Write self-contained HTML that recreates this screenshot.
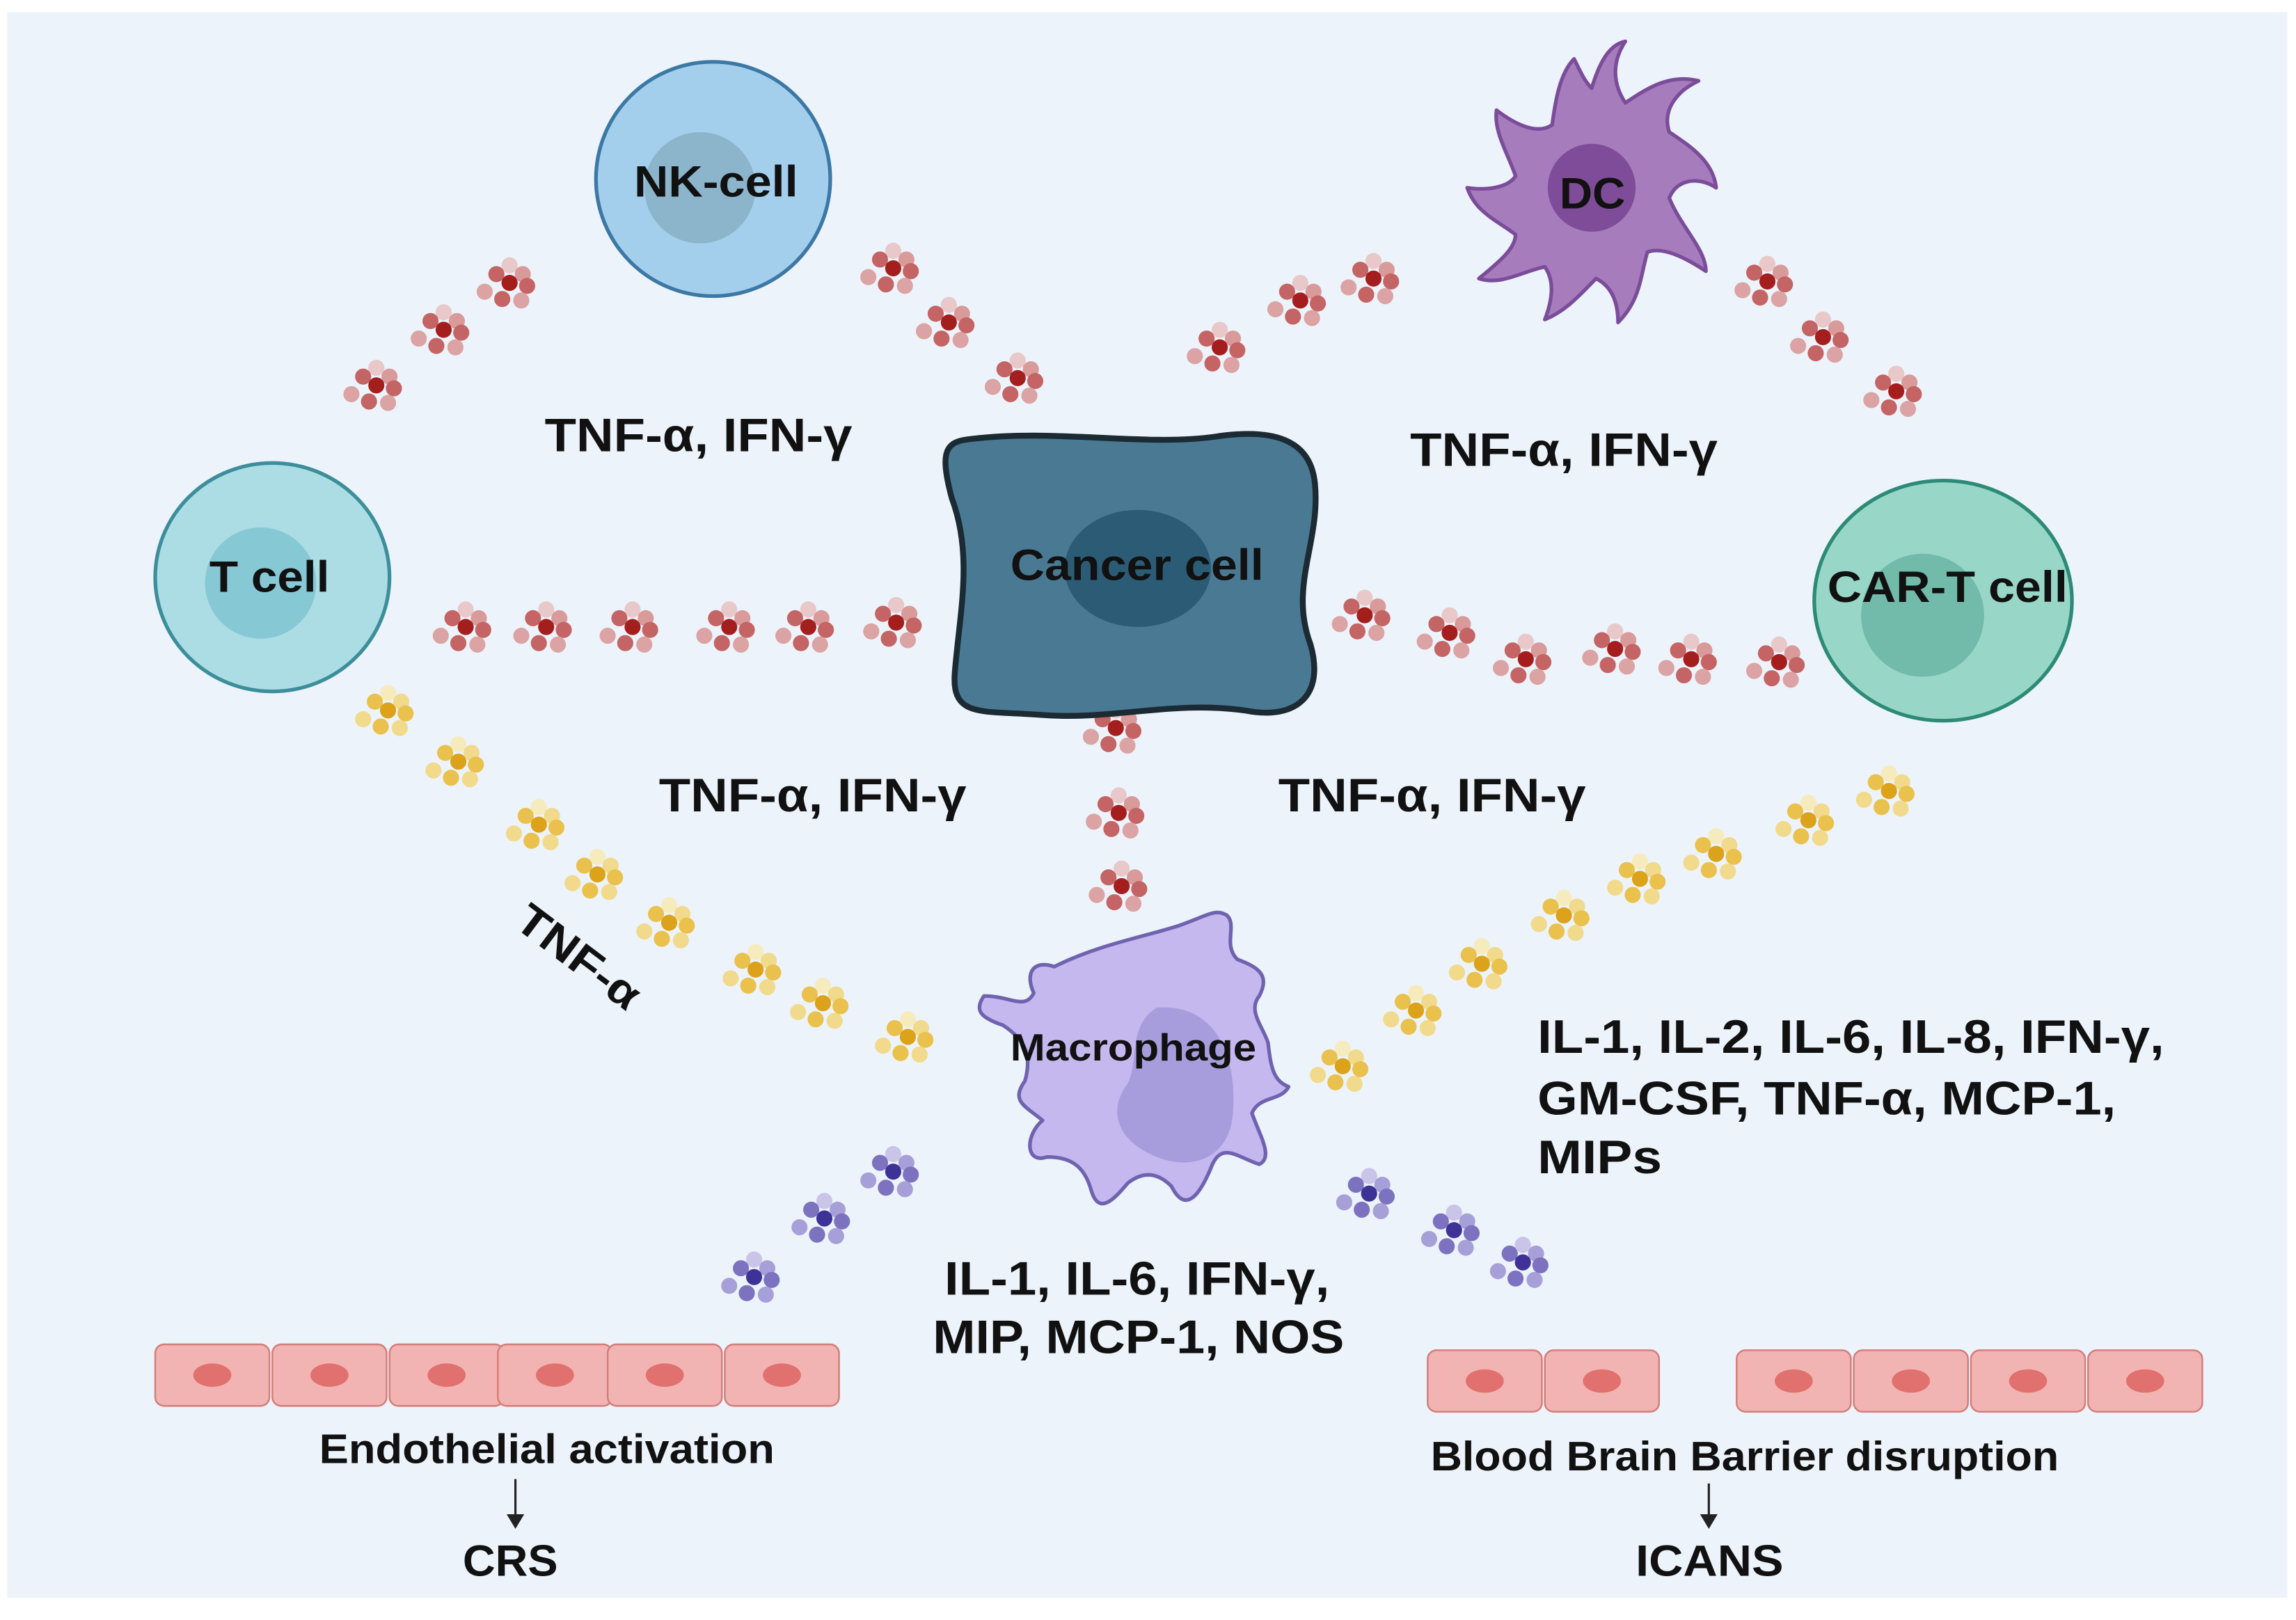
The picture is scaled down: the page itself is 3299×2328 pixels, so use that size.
<!DOCTYPE html>
<html><head><meta charset="utf-8"><style>
html,body{margin:0;padding:0;background:#fff;}
svg{display:block;}
text{font-family:"Liberation Sans",sans-serif;font-weight:bold;fill:#111;}
</style></head><body>
<svg width="3299" height="2328" viewBox="0 0 1568 1106" xmlns="http://www.w3.org/2000/svg">
<defs>
<g id="r">
<circle cx="0" cy="-12" r="5.5" fill="#e8c8c8"/>
<circle cx="-9" cy="-6" r="5.5" fill="#c46464"/>
<circle cx="9" cy="-6" r="5.5" fill="#d99a9a"/>
<circle cx="0" cy="0" r="5.5" fill="#a51e1e"/>
<circle cx="12" cy="2" r="5.5" fill="#c46464"/>
<circle cx="-5" cy="11" r="5.5" fill="#c46464"/>
<circle cx="8" cy="12" r="5.5" fill="#dba3a3"/>
<circle cx="-17" cy="6" r="5.5" fill="#dba3a3"/>
</g>
<g id="y">
<circle cx="0" cy="-12" r="5.5" fill="#f6ebbd"/>
<circle cx="-9" cy="-6" r="5.5" fill="#e9c14c"/>
<circle cx="9" cy="-6" r="5.5" fill="#f1da8c"/>
<circle cx="0" cy="0" r="5.5" fill="#dca21a"/>
<circle cx="12" cy="2" r="5.5" fill="#e9c14c"/>
<circle cx="-5" cy="11" r="5.5" fill="#e9c14c"/>
<circle cx="8" cy="12" r="5.5" fill="#f1da8c"/>
<circle cx="-17" cy="6" r="5.5" fill="#f1da8c"/>
</g>
<g id="p">
<circle cx="0" cy="-12" r="5.5" fill="#c9c4e8"/>
<circle cx="-9" cy="-6" r="5.5" fill="#7c72c0"/>
<circle cx="9" cy="-6" r="5.5" fill="#a7a0d8"/>
<circle cx="0" cy="0" r="5.5" fill="#3e3296"/>
<circle cx="12" cy="2" r="5.5" fill="#7c72c0"/>
<circle cx="-5" cy="11" r="5.5" fill="#7c72c0"/>
<circle cx="8" cy="12" r="5.5" fill="#a7a0d8"/>
<circle cx="-17" cy="6" r="5.5" fill="#a7a0d8"/>
</g>
<g id="ec">
<rect x="0" y="0" width="78" height="42" rx="6" fill="#f2b4b2" stroke="#d47f7c" stroke-width="1.2"/>
<ellipse cx="39" cy="21" rx="13" ry="8" fill="#e0716e"/>
</g>
</defs>
<rect x="0" y="0" width="1568" height="1106" fill="#fff"/>
<rect x="5" y="8" width="1557" height="1083" fill="#ecf3fb"/>

<use href="#r" x="257" y="263"/><use href="#r" x="303" y="225"/><use href="#r" x="348" y="193"/>
<use href="#r" x="610" y="183"/><use href="#r" x="648" y="220"/><use href="#r" x="695" y="258"/>
<use href="#r" x="833" y="237"/><use href="#r" x="888" y="205"/><use href="#r" x="938" y="190"/>
<use href="#r" x="1207" y="192"/><use href="#r" x="1245" y="230"/><use href="#r" x="1295" y="267"/>
<use href="#r" x="318" y="428"/><use href="#r" x="373" y="428"/><use href="#r" x="432" y="428"/>
<use href="#r" x="498" y="428"/><use href="#r" x="552" y="428"/><use href="#r" x="612" y="425"/>
<use href="#r" x="932" y="420"/><use href="#r" x="990" y="432"/><use href="#r" x="1042" y="450"/>
<use href="#r" x="1103" y="443"/><use href="#r" x="1155" y="450"/><use href="#r" x="1215" y="452"/>
<use href="#r" x="762" y="497"/><use href="#r" x="764" y="555"/><use href="#r" x="766" y="605"/>
<use href="#y" x="265" y="485"/><use href="#y" x="313" y="520"/><use href="#y" x="368" y="563"/>
<use href="#y" x="408" y="597"/><use href="#y" x="457" y="630"/><use href="#y" x="516" y="662"/>
<use href="#y" x="562" y="685"/><use href="#y" x="620" y="708"/>
<use href="#y" x="917" y="728"/><use href="#y" x="967" y="690"/><use href="#y" x="1012" y="658"/>
<use href="#y" x="1068" y="625"/><use href="#y" x="1120" y="600"/><use href="#y" x="1172" y="583"/>
<use href="#y" x="1235" y="560"/><use href="#y" x="1290" y="540"/>
<use href="#p" x="515" y="872"/><use href="#p" x="563" y="832"/><use href="#p" x="610" y="800"/>
<use href="#p" x="935" y="815"/><use href="#p" x="993" y="840"/><use href="#p" x="1040" y="862"/>

<circle cx="487" cy="122" r="80" fill="#a4cfec" stroke="#3b78a5" stroke-width="2.5"/>
<circle cx="478" cy="128" r="38" fill="#8cb4cb"/>
<text x="433" y="134" font-size="30" textLength="112" lengthAdjust="spacingAndGlyphs">NK-cell</text>

<g fill="#a67cbd" stroke="#7a4c99" stroke-width="2.5" stroke-linejoin="round">
<path d="M1087 60 C1093 40 1100 30 1110 28 C1102 40 1100 55 1110 70 C1125 60 1140 50 1160 55 C1145 62 1135 75 1140 90 C1155 100 1170 110 1172 128 C1160 120 1145 122 1140 135 C1148 155 1165 170 1165 185 C1150 175 1135 168 1125 172 C1120 190 1120 205 1105 220 C1105 205 1100 195 1090 190 C1080 200 1070 212 1055 218 C1060 205 1062 192 1055 182 C1040 185 1025 195 1010 190 C1022 180 1035 170 1035 160 C1022 150 1008 145 1002 128 C1015 130 1030 128 1035 120 C1030 105 1020 90 1022 75 C1035 85 1050 92 1060 85 C1062 70 1065 50 1075 40 C1080 50 1082 55 1087 60Z"/>
</g>
<circle cx="1087" cy="128" r="30" fill="#7e4c98"/>
<text x="1065" y="142" font-size="30" textLength="45" lengthAdjust="spacingAndGlyphs">DC</text>

<ellipse cx="186" cy="394" rx="80" ry="78" fill="#acdde5" stroke="#3c8e9b" stroke-width="2.5"/>
<circle cx="178" cy="398" r="38" fill="#86c8d4"/>
<text x="143" y="404" font-size="30" textLength="82" lengthAdjust="spacingAndGlyphs">T cell</text>

<ellipse cx="1327" cy="410" rx="88" ry="82" fill="#98d7c7" stroke="#2d8a77" stroke-width="2.5"/>
<circle cx="1313" cy="420" r="42" fill="#72baa9"/>
<text x="1248" y="411" font-size="30" textLength="164" lengthAdjust="spacingAndGlyphs">CAR-T cell</text>

<path d="M660 300 C720 292 780 305 830 298 C870 292 895 300 898 330 C902 370 880 400 895 440 C905 475 885 492 850 485 C800 478 760 492 710 488 C670 485 650 490 652 460 C655 420 665 380 650 340 C642 310 645 302 660 300Z" fill="#4a7a93" stroke="#1b2a33" stroke-width="4"/>
<ellipse cx="777" cy="388" rx="50" ry="40" fill="#2c5c75"/>
<text x="690" y="396" font-size="30" textLength="173" lengthAdjust="spacingAndGlyphs">Cancer cell</text>

<path d="M720 660 C750 645 780 640 805 632 C825 625 830 620 838 625 C845 632 835 645 845 655 C858 660 868 665 860 680 C852 690 862 700 866 712 C868 730 870 738 880 742 C875 752 860 748 855 760 C860 775 870 790 860 795 C845 790 835 780 828 795 C820 815 810 830 800 810 C790 800 780 800 770 808 C760 820 750 830 745 812 C740 795 730 790 715 790 C700 795 700 775 712 765 C700 755 690 752 700 738 C705 720 700 710 685 700 C670 695 665 690 672 680 C690 680 700 690 706 678 C700 665 705 655 720 660Z" fill="#c5b8ef" stroke="#6f63b0" stroke-width="2.5" stroke-linejoin="round"/>
<path d="M790 688 C830 685 845 720 842 760 C840 790 815 800 790 790 C765 780 755 760 770 740 C778 725 770 700 790 688Z" fill="#a89ddc"/>
<text x="690" y="724" font-size="26" textLength="168" lengthAdjust="spacingAndGlyphs">Macrophage</text>

<use href="#ec" x="106" y="918"/><use href="#ec" x="186" y="918"/><use href="#ec" x="266" y="918"/>
<use href="#ec" x="340" y="918"/><use href="#ec" x="415" y="918"/><use href="#ec" x="495" y="918"/>
<use href="#ec" x="975" y="922"/><use href="#ec" x="1055" y="922"/>
<use href="#ec" x="1186" y="922"/><use href="#ec" x="1266" y="922"/><use href="#ec" x="1346" y="922"/><use href="#ec" x="1426" y="922"/>

<text x="372" y="308" font-size="32" textLength="210" lengthAdjust="spacingAndGlyphs">TNF-α, IFN-γ</text>
<text x="963" y="318" font-size="32" textLength="210" lengthAdjust="spacingAndGlyphs">TNF-α, IFN-γ</text>
<text x="450" y="554" font-size="32" textLength="210" lengthAdjust="spacingAndGlyphs">TNF-α, IFN-γ</text>
<text x="873" y="554" font-size="32" textLength="210" lengthAdjust="spacingAndGlyphs">TNF-α, IFN-γ</text>
<text x="0" y="0" font-size="30" textLength="98" lengthAdjust="spacingAndGlyphs" transform="translate(350 632) rotate(37)">TNF-α</text>
<text x="1050" y="719" font-size="32" textLength="428" lengthAdjust="spacingAndGlyphs">IL-1, IL-2, IL-6, IL-8, IFN-γ,</text>
<text x="1050" y="761" font-size="32" textLength="395" lengthAdjust="spacingAndGlyphs">GM-CSF, TNF-α, MCP-1,</text>
<text x="1050" y="801" font-size="32" textLength="85" lengthAdjust="spacingAndGlyphs">MIPs</text>
<text x="645" y="884" font-size="32" textLength="263" lengthAdjust="spacingAndGlyphs">IL-1, IL-6, IFN-γ,</text>
<text x="637" y="924" font-size="32" textLength="281" lengthAdjust="spacingAndGlyphs">MIP, MCP-1, NOS</text>
<text x="218" y="999" font-size="28" textLength="311" lengthAdjust="spacingAndGlyphs">Endothelial activation</text>
<line x1="352" y1="1010" x2="352" y2="1036" stroke="#222" stroke-width="1.5"/>
<path d="M346 1034 L358 1034 L352 1044Z" fill="#222"/>
<text x="316" y="1076" font-size="30" textLength="65" lengthAdjust="spacingAndGlyphs">CRS</text>
<text x="977" y="1004" font-size="28" textLength="429" lengthAdjust="spacingAndGlyphs">Blood Brain Barrier disruption</text>
<line x1="1167" y1="1013" x2="1167" y2="1036" stroke="#222" stroke-width="1.5"/>
<path d="M1161 1034 L1173 1034 L1167 1044Z" fill="#222"/>
<text x="1117" y="1076" font-size="30" textLength="101" lengthAdjust="spacingAndGlyphs">ICANS</text>
</svg>
</body></html>
